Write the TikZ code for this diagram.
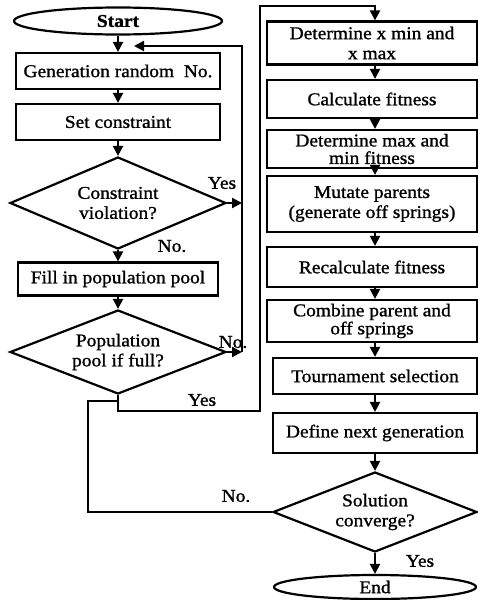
\documentclass[tikz,border=0pt]{standalone}
\usepackage{fontspec}
\setmainfont{Liberation Serif}[FakeStretch=1.08,FakeBold=1.2]
\usetikzlibrary{shapes.geometric,arrows.meta,calc}
\begin{document}
\begin{tikzpicture}[x=1pt,y=-1pt,
 every node/.style={font=\fontsize{18}{20}\selectfont},
 box/.style={draw, line width=2.2pt, rectangle, inner sep=0pt, align=center},
 dia/.style={draw, line width=2.2pt, diamond, aspect=2.4, inner sep=0pt, align=center},
 term/.style={draw, line width=2.2pt, ellipse, inner sep=0pt},
 line/.style={line width=2.2pt},
 arr/.style={line width=2.2pt, -{Triangle[length=10pt,width=10pt]}},
 lbl/.style={inner sep=0pt}]
\useasboundingbox (0,0) rectangle (478,600);
% left column
\node[term, minimum width=208pt, minimum height=27pt] (start) at (118,21) {\bfseries Start};
\node[box, minimum width=204pt, minimum height=36pt] (b1) at (118,71) {Generation random\ \ No.};
\node[box, minimum width=204pt, minimum height=36pt] (b2) at (118,122) {Set constraint};
\node[dia, minimum width=216pt, minimum height=92pt] (d1) at (118,203) {Constraint\\violation?};
\node[box, minimum width=200pt, minimum height=33pt] (b3) at (118,279) {Fill in population pool};
\node[dia, minimum width=216pt, minimum height=84pt] (d2) at (118,352) {Population\\pool if full?};
% right column
\coordinate (colx) at (375,0);
\node[box, minimum width=210pt, minimum height=43pt] (r1) at (372,43) {Determine x min and\\x max};
\node[box, minimum width=210pt, minimum height=38pt] (r2) at (372,99) {Calculate fitness};
\node[box, minimum width=210pt, minimum height=38pt, font=\fontsize{18}{17.5}\selectfont] (r3) at (372,149) {Determine max and\\min fitness};
\node[box, minimum width=210pt, minimum height=56pt] (r4) at (372,204) {Mutate parents\\(generate off springs)};
\node[box, minimum width=210pt, minimum height=40pt] (r5) at (372,267) {Recalculate fitness};
\node[box, minimum width=210pt, minimum height=42pt, font=\fontsize{18}{18}\selectfont] (r6) at (372,321) {Combine parent and\\off springs};
\node[box, minimum width=204pt, minimum height=36pt] (r7) at (375,376) {Tournament selection};
\node[box, minimum width=204pt, minimum height=40pt] (r8) at (375,433) {Define next generation};
\node[dia, minimum width=204pt, minimum height=80pt] (d3) at (375,512) {Solution\\converge?};
\node[term, minimum width=202pt, minimum height=24pt] (end) at (375,587) {End};
% labels
\node[lbl] (yes1) at (222,183) {Yes};
\node[lbl] (no1) at (172,246) {No.};
\node[lbl] (no2) at (233,342) {No.};
\node[lbl] (yes2) at (202,400) {Yes};
\node[lbl] (no3) at (236,496) {No.};
\node[lbl] (yes3) at (420,561) {Yes};
% left connectors
\draw[arr] (start) -- (b1);
\draw[arr] (b1) -- (b2);
\draw[arr] (b2) -- (d1);
\draw[arr] (d1) -- (b3);
\draw[arr] (b3) -- (d2);
\coordinate (rv) at (242,46);
\coordinate (rtip) at (134,46);
\draw[arr] (d1.east) -- (d1.east -| rv);
\draw[arr] (d2.east) -- (d2.east -| rv);
\draw[arr] (d2.east -| rv) -- (rv) -- (rtip);
% outer loop
\coordinate (jn) at (118,401);
\coordinate (sb) at (118,411);
\coordinate (o1) at (260,411);
\coordinate (o2) at (260,6);
\coordinate (lc) at (88,401);
\draw[arr] (d2.south) -- (sb) -- (o1) -- (o2) -| (r1.north -| colx);
\draw[line] (d3.west) -| (lc) -- (jn);
% right connectors
\draw[arr] (r1.south -| colx) -- (r2.north -| colx);
\draw[arr] (r2.south -| colx) -- (r3.north -| colx);
\draw[arr] (r3.south -| colx) -- (r4.north -| colx);
\draw[arr] (r4.south -| colx) -- (r5.north -| colx);
\draw[arr] (r5.south -| colx) -- (r6.north -| colx);
\draw[arr] (r6.south -| colx) -- (r7.north);
\draw[arr] (r7) -- (r8);
\draw[arr] (r8) -- (d3);
\draw[arr] (d3) -- (end);
\end{tikzpicture}
\end{document}
